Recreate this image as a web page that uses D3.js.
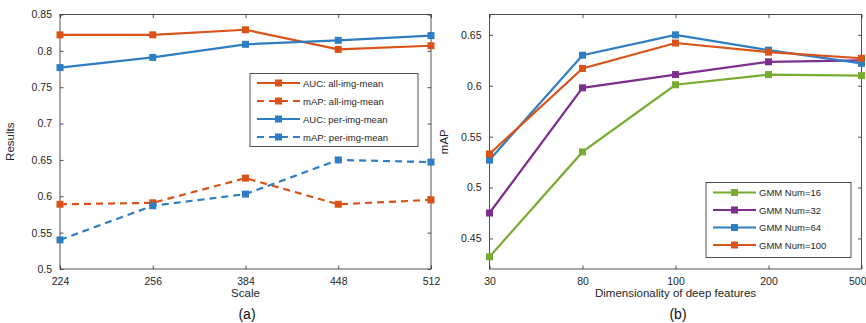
<!DOCTYPE html>
<html><head><meta charset="utf-8">
<script src="https://cdn.jsdelivr.net/npm/d3@7"></script>
<style>body{margin:0;background:#fff}svg{display:block;font-family:"Liberation Sans",Arial,sans-serif}</style>
</head><body><svg id="c" width="866" height="323"></svg>
<script>
// Panel (a)
const scalesA = ["224","256","384","448","512"];
const aucAll = [0.822,0.822,0.829,0.802,0.807];
const mapAll = [0.589,0.591,0.625,0.589,0.595];
const aucPer = [0.777,0.791,0.809,0.8145,0.821];
const mapPer = [0.540,0.587,0.603,0.650,0.647];
const yTicksA = [0.5,0.55,0.6,0.65,0.7,0.75,0.8,0.85];
const seriesA = [
  {name:"AUC: all-img-mean", values:aucAll, color:"#D95319", dash:false},
  {name:"mAP: all-img-mean", values:mapAll, color:"#D95319", dash:true},
  {name:"AUC: per-img-mean", values:aucPer, color:"#2F7DC2", dash:false},
  {name:"mAP: per-img-mean", values:mapPer, color:"#2F7DC2", dash:true}
];
// Panel (b)
const dimsB = ["30","80","100","200","500"];
const gmm16 = [0.432,0.535,0.601,0.611,0.610];
const gmm32 = [0.475,0.598,0.611,0.6235,0.625];
const gmm64 = [0.527,0.630,0.650,0.635,0.622];
const gmm100 = [0.533,0.617,0.642,0.633,0.627];
const yTicksB = [0.45,0.5,0.55,0.6,0.65];
const seriesB = [
  {name:"GMM Num=16", values:gmm16, color:"#77AC30", dash:false},
  {name:"GMM Num=32", values:gmm32, color:"#7E2F8E", dash:false},
  {name:"GMM Num=64", values:gmm64, color:"#2F7DC2", dash:false},
  {name:"GMM Num=100", values:gmm100, color:"#D95319", dash:false}
];

const svg = d3.select("#c");
const txt = "#262626";

function panel(opt){
  const g = svg.append("g");
  const x = d3.scalePoint().domain(opt.cats).range([opt.x0,opt.x1]);
  const y = d3.scaleLinear().domain(opt.ydom).range([opt.y1,opt.y0]);
  const tl = 3.5;
  const axB = d3.axisBottom(x).tickSizeInner(-tl).tickSizeOuter(0).tickPadding(9);
  const axL = d3.axisLeft(y).tickValues(opt.yticks).tickFormat(d3.format("~g")).tickSizeInner(-tl).tickSizeOuter(0).tickPadding(8);
  const axT = d3.axisTop(x).tickSizeInner(-tl).tickSizeOuter(0).tickFormat("");
  const axR = d3.axisRight(y).tickValues(opt.yticks).tickSizeInner(-tl).tickSizeOuter(0).tickFormat("");
  const style = s => { s.select(".domain").remove(); s.selectAll("line").attr("stroke",txt).attr("stroke-width",0.8);
    s.selectAll("text").attr("fill",txt).style("font-size","10.5px").style("font-family","'Liberation Sans',Arial,sans-serif"); };
  const gb = g.append("g").attr("transform",`translate(0,${opt.y1})`).call(axB).call(style);
  if (opt.clampLast) {
    gb.selectAll(".tick").filter((d,i,n)=>i===n.length-1).select("text").attr("text-anchor","end").attr("x",866-opt.x1);
  }
  g.append("g").attr("transform",`translate(${opt.x0},0)`).call(axL).call(style);
  g.append("g").attr("transform",`translate(0,${opt.y0})`).call(axT).call(style);
  g.append("g").attr("transform",`translate(${opt.x1},0)`).call(axR).call(style);
  g.append("rect").attr("x",opt.x0).attr("y",opt.y0).attr("width",opt.x1-opt.x0).attr("height",opt.y1-opt.y0)
    .attr("fill","none").attr("stroke",txt).attr("stroke-width",0.8);
  const line = d3.line().x((d,i)=>x(opt.cats[i])).y(d=>y(d));
  opt.series.forEach(s=>{
    g.append("path").attr("d",line(s.values)).attr("fill","none").attr("stroke",s.color)
      .attr("stroke-width",2.2).attr("stroke-dasharray",s.dash?"7,5":null);
    g.selectAll(null).data(s.values).enter().append("rect")
      .attr("x",(d,i)=>x(opt.cats[i])-3.5).attr("y",d=>y(d)-3.5).attr("width",7).attr("height",7).attr("fill",s.color);
  });
  g.append("text").attr("x",(opt.x0+opt.x1)/2).attr("y",297).attr("text-anchor","middle").attr("fill",txt)
    .style("font-size","11.5px").text(opt.xlabel);
  g.append("text").attr("transform",`translate(${opt.ylx},${(opt.y0+opt.y1)/2}) rotate(-90)`).attr("text-anchor","middle")
    .attr("fill",txt).style("font-size","11.5px").text(opt.ylabel);
  g.append("text").attr("x",opt.capx).attr("y",319).attr("text-anchor","middle").attr("fill","#111")
    .style("font-size","14px").text(opt.caption);
  const L = opt.legend;
  g.append("rect").attr("x",L.x).attr("y",L.y).attr("width",L.w).attr("height",L.h).attr("fill","#fff")
    .attr("stroke",txt).attr("stroke-width",0.8);
  opt.series.forEach((s,i)=>{
    const yy = L.y + L.first + i*L.step;
    g.append("line").attr("x1",L.lx0).attr("x2",L.lx1).attr("y1",yy).attr("y2",yy).attr("stroke",s.color)
      .attr("stroke-width",2.2).attr("stroke-dasharray",s.dash?"7,5":null);
    g.append("rect").attr("x",(L.lx0+L.lx1)/2-3.5).attr("y",yy-3.5).attr("width",7).attr("height",7).attr("fill",s.color);
    g.append("text").attr("x",L.tx).attr("y",yy+3.5).attr("fill",txt).style("font-size","9.5px").text(s.name);
  });
}

panel({cats:scalesA, ydom:[0.5,0.85], yticks:yTicksA, series:seriesA, x0:60, x1:431, y0:14.5, y1:269,
  xlabel:"Scale", ylabel:"Results", ylx:14, caption:"(a)", capx:247,
  legend:{x:250, y:73.5, w:168, h:73, first:9.5, step:18, lx0:257, lx1:300, tx:303}});
panel({cats:dimsB, ydom:[0.42,0.67], yticks:yTicksB, series:seriesB, x0:489.5, x1:861.5, y0:14.5, y1:269,
  xlabel:"Dimensionality of deep features", ylabel:"mAP", ylx:448, caption:"(b)", capx:678, clampLast:true,
  legend:{x:706, y:182.5, w:145, h:75, first:10, step:17.5, lx0:713, lx1:756, tx:759}});
</script></body></html>
